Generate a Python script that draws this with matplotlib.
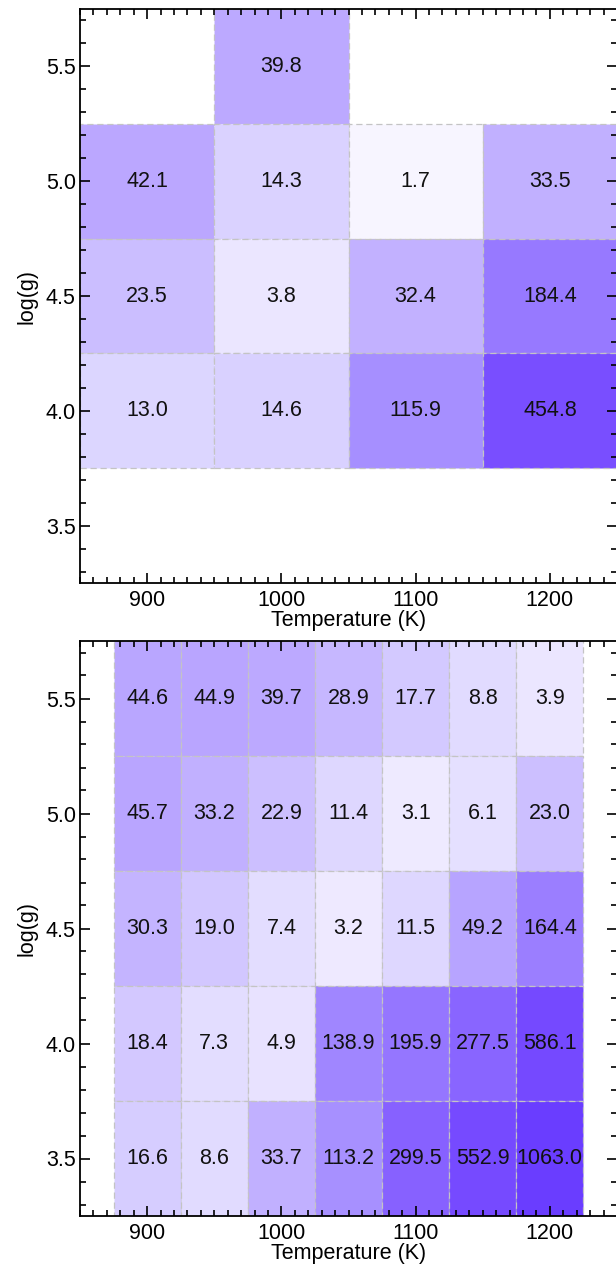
import numpy as np
import matplotlib
matplotlib.use('Agg')
import matplotlib.pyplot as plt
from matplotlib.colors import LinearSegmentedColormap, LogNorm
from matplotlib.ticker import MultipleLocator

plt.rcParams['font.family'] = ['Liberation Sans', 'DejaVu Sans']

# top panel grid
teff_top = [900, 1000, 1100, 1200]
logg_top = [5.5, 5.0, 4.5, 4.0]
vals_top = [
    [np.nan, 39.8, np.nan, np.nan],
    [42.1, 14.3, 1.7, 33.5],
    [23.5, 3.8, 32.4, 184.4],
    [13.0, 14.6, 115.9, 454.8],
]

# bottom panel grid
teff_bot = [900, 950, 1000, 1050, 1100, 1150, 1200]
logg_bot = [5.5, 5.0, 4.5, 4.0, 3.5]
vals_bot = [
    [44.6, 44.9, 39.7, 28.9, 17.7, 8.8, 3.9],
    [45.7, 33.2, 22.9, 11.4, 3.1, 6.1, 23.0],
    [30.3, 19.0, 7.4, 3.2, 11.5, 49.2, 164.4],
    [18.4, 7.3, 4.9, 138.9, 195.9, 277.5, 586.1],
    [16.6, 8.6, 33.7, 113.2, 299.5, 552.9, 1063.0],
]

cmap = LinearSegmentedColormap.from_list('purp', [
    (0.0, '#ffffff'), (0.19, '#ebe6ff'), (0.37, '#dcd5ff'), (0.53, '#bba8ff'),
    (0.68, '#a68fff'), (0.87, '#7a4fff'), (1.0, '#6a3cff')])
norm = LogNorm(vmin=1, vmax=1100)

W, H = 616, 1269
FS = 15.5
fig = plt.figure(figsize=(W / 100, H / 100), dpi=100)
ax1 = fig.add_axes([80 / W, 1 - 583 / H, 537 / W, 574 / H])
ax2 = fig.add_axes([80 / W, 1 - 1216 / H, 537 / W, 575 / H])


def draw(ax, teff, logg, vals, dx):
    for i, g in enumerate(logg):
        for j, t in enumerate(teff):
            v = vals[i][j]
            if np.isnan(v):
                continue
            ax.bar(t, 0.5, bottom=g - 0.25, width=dx, color=cmap(norm(v)),
                   edgecolor='#c4c4c4', linewidth=0.9, linestyle=(0, (5, 3)), zorder=1)
            ax.text(t, g, '%.1f' % v, ha='center', va='center', fontsize=FS,
                    color='#111111', zorder=3)
    ax.set_xlim(850, 1250)
    ax.set_ylim(3.25, 5.75)
    ax.xaxis.set_major_locator(MultipleLocator(100))
    ax.xaxis.set_minor_locator(MultipleLocator(10))
    ax.yaxis.set_major_locator(MultipleLocator(0.5))
    ax.yaxis.set_minor_locator(MultipleLocator(0.1))
    ax.yaxis.set_major_formatter(plt.FormatStrFormatter('%.1f'))
    ax.tick_params(which='both', direction='in', top=True, right=True, width=1.2)
    ax.tick_params(which='major', length=7.5)
    ax.tick_params(which='minor', length=4)
    ax.tick_params(axis='x', labelsize=FS, pad=5)
    ax.tick_params(axis='y', labelsize=FS, pad=3)
    for s in ax.spines.values():
        s.set_linewidth(1.3)
        s.set_zorder(4)
    ax.set_xlabel('Temperature (K)', fontsize=FS, labelpad=-1)
    ax.set_ylabel('log(g)', fontsize=FS, labelpad=6)


draw(ax1, teff_top, logg_top, vals_top, 100)
draw(ax2, teff_bot, logg_bot, vals_bot, 50)

fig.savefig('out.png', dpi=100)
